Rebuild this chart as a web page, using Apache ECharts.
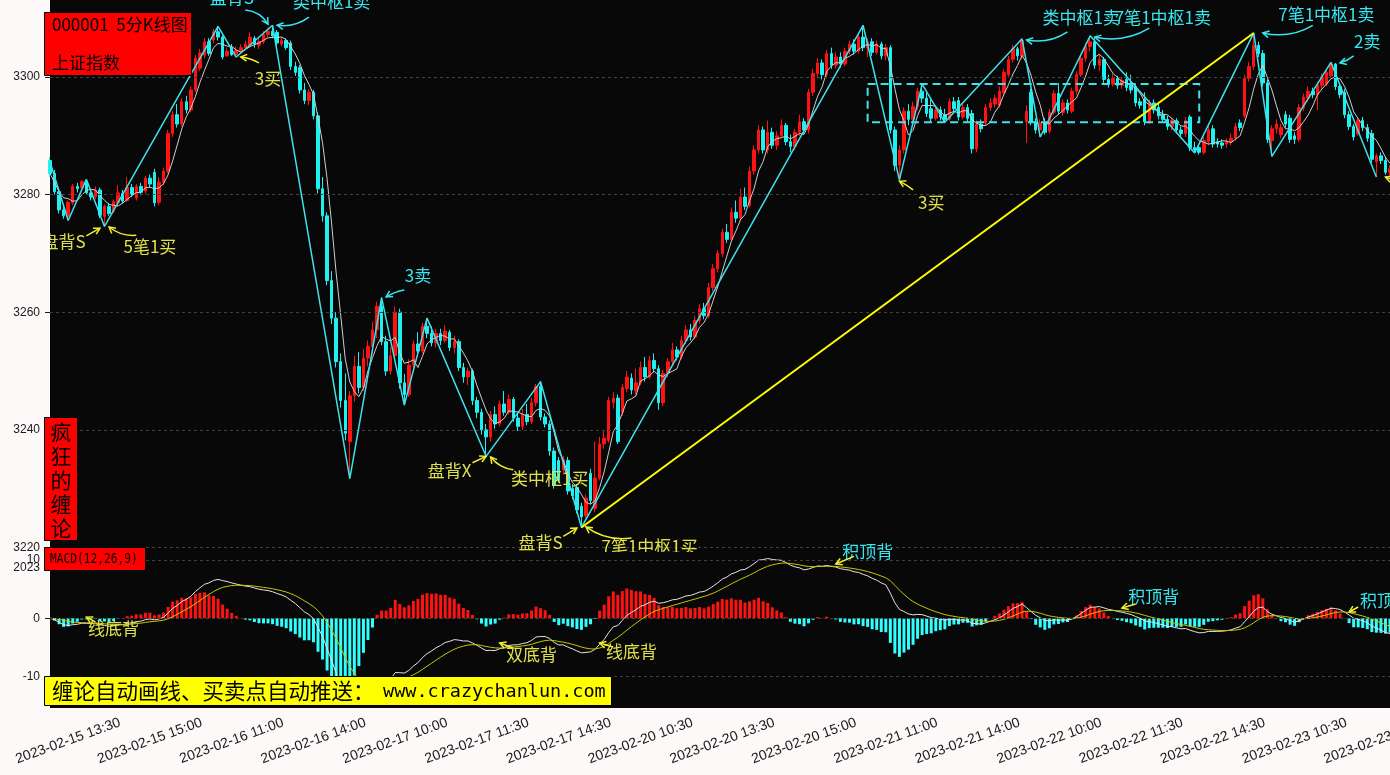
<!DOCTYPE html>
<html><head><meta charset="utf-8">
<script src="https://cdn.jsdelivr.net/npm/echarts@6/dist/echarts.min.js"></script>
<style>html,body{margin:0;padding:0;background:#fdf9f9;}#c{width:1390px;height:775px;}</style>
</head><body><div id="c"></div>
<script>
// ---------------- data ----------------
const tradeDays = ['2023-02-15','2023-02-16','2023-02-17','2023-02-20','2023-02-21','2023-02-22','2023-02-23'];
// 5-minute bars, rows: [open, close, low, high]
const k0215 = [
[3285.8,3283.6,3283.0,3286.4],[3283.6,3280.5,3280.0,3284.2],[3280.5,3277.4,3276.8,3281.0],[3277.4,3276.4,3275.9,3278.0],
[3276.3,3278.7,3275.6,3279.0],[3278.6,3281.4,3278.2,3281.8],[3281.4,3281.0,3280.4,3282.0],[3281.2,3282.2,3280.8,3282.5],
[3282.2,3280.3,3280.0,3282.6],[3280.3,3279.6,3279.0,3281.0],[3279.6,3280.8,3279.2,3281.4],[3280.8,3276.5,3276.0,3281.2],
[3276.3,3278.0,3274.6,3278.3],[3278.0,3276.8,3276.4,3278.6],[3277.2,3278.8,3276.9,3279.2],[3278.6,3280.3,3278.0,3281.6],
[3280.2,3278.9,3278.5,3280.8],[3279.0,3281.2,3278.8,3283.0],[3281.2,3280.0,3279.6,3281.8],[3279.5,3281.4,3279.0,3281.8],
[3281.4,3280.4,3279.9,3282.0],[3280.6,3282.8,3280.2,3283.2],[3282.8,3281.8,3281.2,3283.4]];
const k0216 = [
[3283.8,3278.6,3278.0,3284.4],[3278.7,3282.1,3278.2,3283.0],[3282.1,3284.0,3281.6,3284.6],[3284.0,3290.4,3283.6,3291.0],
[3290.4,3293.6,3289.8,3294.2],[3293.6,3292.0,3291.4,3295.4],[3292.0,3295.8,3291.6,3296.4],[3295.8,3294.4,3293.8,3296.8],
[3294.4,3297.8,3294.0,3298.4],[3297.8,3303.2,3297.4,3303.8],[3301.5,3304.1,3301.0,3304.8],[3303.7,3306.0,3303.2,3306.6],
[3306.0,3304.0,3303.6,3306.6],[3306.3,3307.7,3305.8,3308.2],[3307.7,3306.8,3306.2,3308.6],[3306.8,3303.4,3303.0,3307.2],
[3303.6,3304.4,3303.4,3305.0],[3305.0,3303.8,3303.6,3305.6],[3303.8,3304.6,3303.4,3305.2],[3304.4,3305.0,3304.0,3305.6],
[3305.0,3305.6,3304.6,3306.2],[3305.4,3306.8,3305.0,3307.6],[3306.6,3305.6,3305.0,3307.0],[3305.4,3306.0,3304.8,3306.6],
[3306.0,3307.2,3305.6,3307.8],[3307.2,3307.8,3306.8,3308.4],[3307.8,3307.0,3306.6,3308.8],[3307.6,3305.8,3305.4,3308.0],
[3305.6,3306.2,3305.2,3306.8],[3306.2,3305.0,3304.6,3306.6],[3305.8,3301.8,3301.2,3306.2],[3301.8,3300.8,3300.2,3302.6],
[3301.6,3297.8,3297.2,3302.0],[3297.8,3296.0,3295.4,3299.0],[3296.0,3297.4,3295.2,3298.0],[3297.4,3293.4,3292.8,3297.8],
[3293.4,3281.0,3280.2,3294.0],[3281.0,3276.4,3275.4,3283.0],[3276.4,3265.4,3264.6,3277.0],[3265.4,3259.0,3258.0,3267.0],
[3259.0,3251.6,3250.6,3260.0],[3251.6,3245.0,3243.8,3253.0],[3245.0,3239.4,3238.2,3249.6],[3238.0,3245.8,3231.7,3246.6],
[3245.8,3250.8,3244.8,3252.6],[3250.8,3247.2,3246.2,3253.2],[3247.2,3252.2,3246.6,3253.8],[3252.2,3254.2,3250.8,3255.2]];
const k0217 = [
[3254.2,3257.0,3253.0,3258.4],[3257.0,3261.0,3255.6,3261.8],[3261.0,3255.0,3254.4,3262.5],[3255.0,3250.0,3249.2,3256.0],
[3250.0,3252.6,3249.4,3254.0],[3252.6,3260.0,3252.0,3261.0],[3260.0,3248.0,3247.0,3260.6],[3248.0,3246.0,3244.2,3249.5],
[3246.0,3251.0,3245.6,3252.0],[3251.0,3254.6,3250.2,3255.2],[3254.6,3253.4,3252.6,3256.6],[3253.4,3257.6,3253.0,3258.2],
[3257.6,3256.4,3255.6,3259.0],[3256.4,3254.8,3254.2,3257.6],[3254.8,3256.4,3254.0,3257.2],[3256.4,3255.2,3254.4,3257.2],
[3255.2,3256.8,3254.8,3257.8],[3256.6,3254.0,3253.4,3257.0],[3254.0,3255.0,3253.0,3256.0],[3255.0,3250.6,3250.0,3255.4],
[3250.6,3249.0,3248.0,3251.4],[3249.0,3250.0,3247.6,3250.6],[3250.0,3245.0,3244.2,3250.4],[3245.0,3243.0,3242.0,3245.6],
[3243.0,3240.0,3239.2,3243.6],[3240.0,3238.8,3235.5,3241.0],[3238.8,3242.6,3238.0,3243.2],[3242.6,3241.0,3240.2,3244.0],
[3241.0,3244.4,3240.6,3245.0],[3244.4,3243.0,3242.4,3246.6],[3243.0,3245.2,3242.6,3246.0],[3245.2,3242.0,3241.4,3245.6],
[3242.0,3240.6,3239.8,3243.0],[3240.6,3242.6,3240.0,3243.6],[3242.6,3241.4,3240.8,3244.4],[3241.4,3244.6,3241.0,3245.4],
[3244.6,3247.4,3244.0,3247.8],[3247.4,3242.2,3241.6,3248.2],[3242.2,3241.0,3240.4,3242.8],[3241.0,3236.4,3235.6,3241.6],
[3236.4,3230.6,3230.0,3237.0],[3234.8,3231.4,3231.0,3235.4],[3233.2,3235.0,3232.4,3235.6],[3234.8,3229.6,3229.0,3235.4],
[3230.0,3228.8,3228.2,3230.8],[3230.2,3226.4,3225.8,3230.8],[3227.0,3225.2,3223.4,3227.6],[3225.4,3228.4,3225.0,3229.0]];
const k0220 = [
[3232.6,3228.0,3227.4,3233.4],[3226.6,3231.8,3226.0,3238.0],[3231.8,3237.6,3231.4,3238.8],[3237.6,3238.6,3236.8,3240.0],
[3238.2,3245.0,3237.8,3245.6],[3244.6,3245.4,3243.6,3246.4],[3245.4,3238.0,3237.6,3246.0],[3243.0,3247.2,3242.4,3247.8],
[3247.0,3249.0,3246.4,3250.0],[3248.8,3246.8,3246.0,3249.6],[3246.6,3248.0,3246.0,3250.4],[3248.0,3250.6,3247.6,3251.6],
[3250.6,3249.0,3248.2,3252.4],[3249.0,3251.8,3248.6,3252.6],[3251.8,3250.4,3249.8,3253.0],[3250.4,3244.6,3243.4,3251.0],
[3244.6,3249.6,3244.0,3250.2],[3249.6,3251.6,3249.0,3252.2],[3251.6,3253.6,3251.0,3254.8],[3253.6,3252.4,3251.8,3254.2],
[3252.4,3255.2,3252.0,3256.0],[3255.2,3257.0,3254.6,3257.8],[3257.0,3255.8,3255.2,3258.0],[3255.8,3258.6,3255.4,3259.4],
[3258.6,3260.6,3258.0,3261.4],[3260.6,3259.4,3258.8,3261.6],[3259.4,3264.2,3259.0,3265.0],[3264.2,3267.4,3263.6,3268.2],
[3267.4,3270.0,3266.8,3270.6],[3270.0,3273.6,3269.4,3274.2],[3273.6,3272.4,3271.8,3275.0],[3272.4,3277.0,3272.0,3277.8],
[3277.0,3276.0,3275.2,3279.0],[3276.0,3279.6,3275.6,3281.0],[3279.6,3278.0,3277.4,3281.2],[3278.2,3284.0,3277.8,3284.8],
[3284.0,3287.6,3283.4,3288.4],[3287.6,3291.0,3287.0,3291.8],[3291.0,3287.6,3287.0,3291.6],[3287.6,3290.6,3287.0,3292.6],
[3290.6,3288.4,3287.8,3291.4],[3288.4,3290.0,3287.6,3290.8],[3290.0,3291.8,3289.6,3292.8],[3291.8,3289.0,3288.4,3292.2],
[3289.0,3288.2,3287.2,3290.2],[3288.2,3290.6,3287.6,3291.2],[3290.6,3292.4,3290.0,3293.6],[3292.4,3291.0,3290.4,3293.0]];
const k0221 = [
[3291.0,3297.4,3290.4,3298.0],[3297.4,3300.6,3296.8,3301.4],[3300.6,3302.4,3299.8,3303.2],[3302.4,3300.4,3299.6,3303.0],
[3300.4,3304.0,3300.0,3304.6],[3304.0,3302.0,3301.4,3305.0],[3302.0,3303.4,3301.4,3304.2],[3303.4,3302.2,3301.6,3304.2],
[3302.2,3304.4,3301.8,3305.0],[3304.4,3305.6,3303.8,3306.2],[3305.6,3304.4,3303.8,3306.4],[3304.4,3306.8,3304.0,3307.4],
[3306.8,3305.0,3304.4,3308.8],[3305.0,3306.0,3303.4,3306.6],[3306.0,3304.2,3303.6,3306.6],[3304.2,3305.6,3303.8,3306.2],
[3305.6,3303.6,3303.0,3306.0],[3303.6,3305.0,3302.8,3305.6],[3305.0,3291.0,3290.4,3305.4],[3291.0,3285.0,3284.0,3291.6],
[3285.0,3287.6,3282.5,3288.4],[3287.6,3294.2,3287.0,3294.8],[3294.2,3292.8,3291.8,3295.4],[3292.8,3295.0,3292.2,3295.8],
[3295.0,3297.6,3294.4,3298.2],[3297.6,3296.4,3295.6,3298.8],[3296.4,3293.8,3293.2,3297.4],[3294.6,3293.0,3292.4,3296.2],
[3293.0,3294.4,3292.6,3295.2],[3294.4,3293.2,3292.6,3295.0],[3293.6,3292.8,3292.3,3294.6],[3292.8,3295.8,3292.6,3296.4],
[3295.8,3294.6,3294.0,3296.6],[3296.0,3293.2,3292.6,3296.6],[3293.2,3294.8,3292.8,3295.4],[3294.8,3293.0,3292.4,3295.4],
[3293.8,3287.8,3287.0,3294.4],[3287.8,3292.0,3287.2,3292.6],[3292.0,3291.2,3290.6,3292.8],[3292.2,3294.8,3291.8,3295.4],
[3294.8,3295.6,3294.2,3296.4],[3295.4,3296.4,3294.8,3297.0],[3295.2,3297.6,3294.8,3298.4],[3297.4,3300.8,3297.0,3301.4],
[3300.4,3303.0,3300.0,3303.6],[3303.0,3304.8,3302.4,3305.4],[3304.8,3303.6,3302.8,3305.2],[3303.6,3306.2,3303.0,3306.5]];
const k0222 = [
[3292.4,3294.2,3288.8,3295.2],[3297.4,3292.4,3291.8,3298.0],[3292.4,3291.0,3290.4,3293.0],[3291.0,3292.2,3289.8,3292.8],
[3292.2,3290.6,3290.2,3293.0],[3290.8,3294.0,3290.4,3294.6],[3294.0,3297.2,3293.6,3297.8],[3297.2,3294.2,3293.6,3299.0],
[3294.0,3295.6,3293.4,3296.2],[3295.6,3294.4,3293.8,3296.2],[3294.2,3297.6,3293.8,3298.2],[3297.6,3300.4,3297.0,3301.0],
[3300.4,3303.2,3300.0,3303.8],[3303.2,3305.2,3302.6,3305.8],[3305.2,3306.0,3304.4,3307.0],[3306.0,3302.0,3301.4,3306.6],
[3302.0,3303.0,3301.0,3303.8],[3303.0,3299.6,3299.0,3303.4],[3299.6,3298.8,3298.2,3300.4],[3298.8,3299.8,3298.4,3300.6],
[3299.8,3298.6,3298.0,3300.2],[3298.6,3299.4,3298.0,3300.0],[3299.6,3298.2,3297.6,3300.8],[3298.6,3297.8,3297.2,3300.4],
[3298.4,3295.6,3295.0,3298.8],[3295.8,3295.2,3294.6,3296.4],[3296.2,3292.4,3291.8,3297.4],[3292.4,3295.6,3292.0,3296.2],
[3295.6,3294.4,3293.8,3296.2],[3294.8,3293.4,3292.8,3295.4],[3293.6,3292.8,3292.2,3294.4],[3292.8,3291.6,3291.0,3293.4],
[3291.6,3292.6,3291.0,3293.0],[3292.6,3291.0,3290.4,3293.0],[3291.0,3290.4,3289.6,3291.6],[3290.4,3292.6,3289.8,3293.2],
[3293.2,3288.0,3287.4,3293.6],[3288.0,3287.6,3287.1,3289.0],[3288.0,3287.2,3286.8,3288.6],[3287.2,3289.2,3286.8,3289.8],
[3289.0,3291.0,3288.4,3291.6],[3291.2,3288.6,3288.0,3291.8],[3289.0,3288.6,3288.0,3289.6],[3288.8,3288.4,3287.8,3289.4],
[3288.6,3289.0,3288.0,3289.6],[3289.0,3289.6,3288.4,3290.4],[3289.6,3291.6,3289.2,3292.2],[3292.2,3291.4,3290.8,3292.8]];
const k0223 = [
[3293.4,3299.8,3293.0,3300.4],[3299.8,3301.8,3299.2,3302.6],[3301.8,3305.4,3301.2,3307.5],[3305.4,3304.0,3303.4,3306.0],
[3304.0,3299.0,3298.4,3304.6],[3299.0,3289.4,3288.8,3299.6],[3289.2,3291.2,3286.5,3291.8],[3291.2,3292.0,3290.4,3292.8],
[3290.2,3291.4,3289.6,3292.0],[3293.6,3292.0,3291.4,3294.2],[3293.0,3289.4,3288.8,3293.6],[3290.0,3289.4,3288.6,3290.6],
[3289.4,3294.8,3289.0,3295.4],[3294.8,3296.6,3294.2,3297.2],[3296.4,3297.6,3295.8,3298.4],[3297.6,3297.0,3296.4,3298.2],
[3297.0,3298.6,3294.4,3299.2],[3298.6,3300.0,3298.0,3300.6],[3298.8,3300.8,3298.4,3301.4],[3300.2,3302.2,3299.8,3302.5],
[3302.2,3298.4,3297.8,3302.4],[3298.4,3297.0,3296.4,3299.0],[3297.4,3293.6,3293.0,3298.0],[3293.6,3291.6,3291.0,3294.2],
[3291.6,3289.8,3289.2,3292.0],[3290.4,3292.6,3290.0,3293.2],[3292.6,3291.4,3290.8,3293.2],[3291.4,3289.6,3289.0,3292.0],
[3290.4,3286.0,3285.4,3291.0],[3285.6,3286.6,3283.0,3287.0],[3286.6,3285.8,3285.2,3287.2],[3285.8,3283.8,3283.4,3286.4],
[3283.8,3284.4,3283.2,3285.0]];

// 笔 (stroke) turning points: [bar index, price]
const biPoints = [[0,3285.6],[4,3275.6],[8,3282.6],[12,3274.6],[37,3308.6],[41,3303.4],[49,3308.8],[66,3231.7],
[73,3262.5],[78,3244.2],[83,3259.0],[96,3235.5],[108,3248.2],[117,3223.4],[179,3308.8],[187,3282.5],[192,3298.8],
[197,3292.3],[214,3306.5],[218,3289.8],[229,3307.0],[252,3287.1],[265,3307.5],[269,3286.5],[282,3302.5],[292,3283.0]];
// 线段 (segment)
const segPoints = [[117,3223.4],[265,3307.5]];
// 中枢 box: [start index, end index, low, high]
const zsBox = [179.6, 252.5, 3292.3, 3298.8];

const yTicksMain = [3220,3240,3260,3280,3300];
const yTicksMacd = [-10,0,10];

// annotations (main panel): [text, bar index, price, colour]
const annoMain = [
['盘背S',40.1,3313.6,'c'],['类中枢1卖',62.3,3312.9,'c'],['3买',48.4,3299.7,'y'],['盘背S',2.9,3272.1,'y'],
['5笔1买',22.2,3271.1,'y'],['3卖',80.6,3266.2,'c'],['盘背X',88.1,3233.0,'y'],['类中枢1买',110.3,3231.8,'y'],
['盘背S',108.1,3220.9,'y'],['7笔1中枢1买',132.1,3220.1,'y'],['3买',194.2,3278.7,'y'],['类中枢1卖',227.0,3310.2,'c'],
['7笔1中枢1卖',245.0,3310.2,'c'],['7笔1中枢1卖',280.9,3310.7,'c'],['2卖',290.0,3306.1,'c']];
// arrows (main panel): [fromIdx, fromPrice, toIdx, toPrice, bend, colour]
const arrowsMain = [
[42.5,3311.4,48.0,3309.0,-0.25,'c'],[57.2,3310.2,50.0,3308.8,-0.2,'c'],[45.6,3302.4,42.1,3303.4,0.1,'y'],
[8.4,3273.0,11.0,3274.3,0.0,'y'],[19.2,3273.1,12.8,3274.5,-0.2,'y'],[77.5,3263.8,74.0,3262.6,0.1,'c'],
[92.5,3234.4,95.6,3235.5,0.0,'y'],[101.9,3233.2,97.1,3235.4,-0.2,'y'],[113.4,3221.9,116.0,3223.3,0.0,'y'],
[127.7,3221.6,117.8,3223.5,-0.2,'y'],[190.2,3280.8,187.1,3282.3,0.05,'y'],[224.1,3307.7,214.7,3306.3,-0.2,'c'],
[241.7,3308.3,230.3,3306.8,-0.2,'c'],[277.8,3308.8,266.8,3307.5,-0.2,'c'],[287.3,3303.6,283.6,3302.4,-0.1,'c'],
[297.2,3282.1,293.5,3283.0,0.0,'y']];
// annotations (MACD panel)
const annoMacd = [['线底背',14.3,-1.83,'y'],['双底背',106.3,-6.28,'y'],['线底背',128.1,-5.77,'y'],
['积顶背',180.1,11.5,'c'],['积顶背',243.3,3.65,'c'],['积顶背',293.7,2.96,'c']];
const arrowsMacd = [[10.0,-0.6,7.5,0.2,0.0,'y'],[101.7,-5.08,98.6,-4.23,0.0,'y'],[123.5,-4.91,120.6,-4.23,0.0,'y'],
[177.0,10.6,172.8,9.3,0.0,'y'],[238.9,2.45,235.6,1.76,0.0,'y'],[288.0,1.93,285.8,1.08,0.0,'y']];

// ---------------- build ----------------
const RED='#ff1212', CYAN='#1ff0f0', BI='#3fe2ec', TC='#38e6ee', TY='#e0e04c', AY='#f0f030';
function sessionSlots(){const s=[];const f=t=>String(Math.floor(t/60)).padStart(2,'0')+':'+String(t%60).padStart(2,'0');
 for(let t=575;t<=690;t+=5)s.push(f(t)); for(let t=785;t<=900;t+=5)s.push(f(t)); return s;}
const slots=sessionSlots();
const dayBars=[k0215,k0216,k0217,k0220,k0221,k0222,k0223];
const cats=[], kData=[];
dayBars.forEach((rows,d)=>{const sl = d===0 ? slots.slice(slots.length-rows.length) : slots.slice(0,rows.length);
 rows.forEach((r,i)=>{cats.push(tradeDays[d]+' '+sl[i]); kData.push(r);});});
const closes=kData.map(r=>r[1]);
const ma5=closes.map((c,i)=>{const a=closes.slice(Math.max(0,i-4),i+1);return +(a.reduce((s,v)=>s+v,0)/a.length).toFixed(2);});
function ema(arr,n){const a=2/(n+1);const out=[];arr.forEach((v,i)=>out.push(i===0?v:a*v+(1-a)*out[i-1]));return out;}
const e12=ema(closes,12), e26=ema(closes,26);
const dif=closes.map((c,i)=>e12[i]-e26[i]);
const dea=ema(dif,9);
const hist=dif.map((v,i)=>2*(v-dea[i]));
const labelStart=4, labelEvery=18;
const showIdx=i=>i>=labelStart && (i-labelStart)%labelEvery===0;

function textRender(list){return (params,api)=>{const r=list[params.dataIndex];const p=api.coord([r[1],r[2]]);
 return {type:'text',x:p[0],y:p[1],style:{text:r[0],fill:r[3]==='c'?TC:TY,font:'17px "Noto Sans CJK SC"',align:'center',verticalAlign:'middle'}};};}
function arrowRender(list){return (params,api)=>{const r=list[params.dataIndex];
 const p1=api.coord([r[0],r[1]]), p2=api.coord([r[2],r[3]]);
 const dx=p2[0]-p1[0], dy=p2[1]-p1[1];
 const cx=(p1[0]+p2[0])/2-dy*r[4], cy=(p1[1]+p2[1])/2+dx*r[4];
 let ux=p2[0]-cx, uy=p2[1]-cy; const L=Math.hypot(ux,uy)||1; ux/=L; uy/=L;
 const hl=7, an=0.5, co=Math.cos(an), si=Math.sin(an);
 const h1=[p2[0]-hl*(ux*co-uy*si), p2[1]-hl*(uy*co+ux*si)];
 const h2=[p2[0]-hl*(ux*co+uy*si), p2[1]-hl*(uy*co-ux*si)];
 const col=r[5]==='c'?TC:AY;
 return {type:'group',children:[
  {type:'bezierCurve',shape:{x1:p1[0],y1:p1[1],x2:p2[0],y2:p2[1],cpx1:cx,cpy1:cy},style:{stroke:col,lineWidth:1.5,fill:null}},
  {type:'polyline',shape:{points:[h1,p2,h2]},style:{stroke:col,lineWidth:1.5,fill:null}}]};};}

const axisFont={fontFamily:'Liberation Sans',color:'#1a1a1a'};
const plain=v=>String(v);
const chart=echarts.init(document.getElementById('c'),null,{renderer:'canvas'});
chart.setOption({
 animation:false, backgroundColor:'#fdf9f9',
 grid:[{left:50,top:0,width:1340,height:552,show:true,backgroundColor:'#080808',borderWidth:0,containLabel:false,outerBoundsMode:'none'},
       {left:50,top:552,width:1340,height:156,show:true,backgroundColor:'#080808',borderWidth:0,containLabel:false,outerBoundsMode:'none'}],
 xAxis:[{type:'category',gridIndex:0,data:cats,boundaryGap:false,show:false},
        {type:'category',gridIndex:1,data:cats,boundaryGap:false,
         axisLine:{show:false},splitLine:{show:false},
         axisTick:{show:true,interval:(i)=>showIdx(i),length:5,lineStyle:{color:'#1a1a1a'}},
         axisLabel:{interval:(i)=>showIdx(i),rotate:20,align:'center',verticalAlign:'middle',margin:33,fontSize:14,hideOverlap:false,...axisFont}}],
 yAxis:[{type:'value',gridIndex:0,min:3219.23,max:3313.1,axisLine:{show:false},splitLine:{show:false},
         axisTick:{show:true,customValues:yTicksMain,length:5,lineStyle:{color:'#1a1a1a'}},
         axisLabel:{customValues:yTicksMain,formatter:plain,fontSize:12,margin:10,...axisFont}},
        {type:'value',gridIndex:1,min:-15.36,max:11.35,axisLine:{show:false},splitLine:{show:false},
         axisTick:{show:true,customValues:yTicksMacd,length:5,lineStyle:{color:'#1a1a1a'}},
         axisLabel:{customValues:yTicksMacd,formatter:plain,fontSize:12,margin:10,...axisFont}}],
 series:[
  {type:'line',xAxisIndex:0,yAxisIndex:0,data:[],z:1,silent:true,
   markLine:{silent:true,symbol:'none',label:{show:false},lineStyle:{color:'#404040',type:[3,3],width:1},data:yTicksMain.map(v=>({yAxis:v}))}},
  {type:'line',xAxisIndex:1,yAxisIndex:1,data:[],z:1,silent:true,
   markLine:{silent:true,symbol:'none',label:{show:false},lineStyle:{color:'#404040',type:[3,3],width:1},data:yTicksMacd.map(v=>({yAxis:v}))}},
  {type:'candlestick',xAxisIndex:0,yAxisIndex:0,data:kData,barWidth:3,z:3,
   itemStyle:{color:RED,color0:CYAN,borderColor:RED,borderColor0:CYAN,borderWidth:1}},
  {type:'line',xAxisIndex:0,yAxisIndex:0,data:ma5,showSymbol:false,z:4,lineStyle:{color:'#cfcfcf',width:1}},
  {type:'line',xAxisIndex:0,yAxisIndex:0,data:biPoints,showSymbol:false,z:5,lineStyle:{color:BI,width:1.5}},
  {type:'line',xAxisIndex:0,yAxisIndex:0,data:segPoints,showSymbol:false,z:6,lineStyle:{color:'#ffff00',width:2}},
  {type:'custom',xAxisIndex:0,yAxisIndex:0,z:6,data:[[zsBox[0],zsBox[2]]],
   renderItem:(params,api)=>{const p1=api.coord([zsBox[0],zsBox[3]]),p2=api.coord([zsBox[1],zsBox[2]]);
     return {type:'rect',shape:{x:p1[0],y:p1[1],width:p2[0]-p1[0],height:p2[1]-p1[1]},style:{fill:null,stroke:BI,lineWidth:2,lineDash:[8,5]}};}},
  {type:'custom',xAxisIndex:0,yAxisIndex:0,z:8,clip:true,data:annoMain.map(r=>[r[1],r[2]]),renderItem:textRender(annoMain)},
  {type:'custom',xAxisIndex:0,yAxisIndex:0,z:8,clip:true,data:arrowsMain.map(r=>[r[2],r[3]]),renderItem:arrowRender(arrowsMain)},
  {type:'bar',xAxisIndex:1,yAxisIndex:1,barWidth:3,z:3,data:hist.map(v=>({value:+v.toFixed(3),itemStyle:{color:v>=0?RED:'#30ffff'}}))},
  {type:'line',xAxisIndex:1,yAxisIndex:1,data:dif.map(v=>+v.toFixed(3)),showSymbol:false,z:4,lineStyle:{color:'#e4e4e4',width:1}},
  {type:'line',xAxisIndex:1,yAxisIndex:1,data:dea.map(v=>+v.toFixed(3)),showSymbol:false,z:4,lineStyle:{color:'#c8c800',width:1}},
  {type:'custom',xAxisIndex:1,yAxisIndex:1,z:8,clip:false,data:annoMacd.map(r=>[r[1],r[2]]),renderItem:textRender(annoMacd)},
  {type:'custom',xAxisIndex:1,yAxisIndex:1,z:8,clip:false,data:arrowsMacd.map(r=>[r[2],r[3]]),renderItem:arrowRender(arrowsMacd)}
 ],
 graphic:[
  {type:'rect',z:100,shape:{x:44.5,y:12.5,width:147,height:63},style:{fill:'#ff0000',stroke:'#000',lineWidth:1}},
  {type:'text',z:101,x:52,y:25,style:{text:'000001  5分K线图',font:'17px "Noto Sans CJK SC"',fill:'#000',verticalAlign:'middle'}},
  {type:'text',z:101,x:52,y:63,style:{text:'上证指数',font:'17px "Noto Sans CJK SC"',fill:'#000',verticalAlign:'middle'}},
  {type:'rect',z:100,shape:{x:44.5,y:417.5,width:33,height:123},style:{fill:'#ff0000',stroke:'#000',lineWidth:1}},
  {type:'text',z:101,x:61,y:480,style:{text:'疯\n狂\n的\n缠\n论',font:'21px "Noto Sans CJK SC"',lineHeight:24,fill:'#000',align:'center',verticalAlign:'middle'}},
  {type:'rect',z:100,shape:{x:44.5,y:547.5,width:101,height:23},style:{fill:'#ff0000',stroke:'#000',lineWidth:1}},
  {type:'text',z:101,x:50,y:559,scaleX:0.8,style:{text:'MACD(12,26,9)',font:'14px "DejaVu Sans Mono"',fill:'#000',verticalAlign:'middle'}},
  {type:'rect',z:100,shape:{x:44.5,y:676.5,width:567,height:29},style:{fill:'#ffff00',stroke:'#000',lineWidth:1}},
  {type:'text',z:101,x:52,y:691,style:{text:'缠论自动画线、买卖点自动推送：',font:'21.5px "Noto Sans CJK SC"',fill:'#000',verticalAlign:'middle'}},
  {type:'text',z:101,x:383,y:692,style:{text:'www.crazychanlun.com',font:'18.5px "DejaVu Sans Mono"',fill:'#000',verticalAlign:'middle'}},
  {type:'text',z:101,x:40,y:568,style:{text:'2023',font:'12px "Liberation Sans"',fill:'#1a1a1a',align:'right',verticalAlign:'middle'}}
 ]
});
</script></body></html>
